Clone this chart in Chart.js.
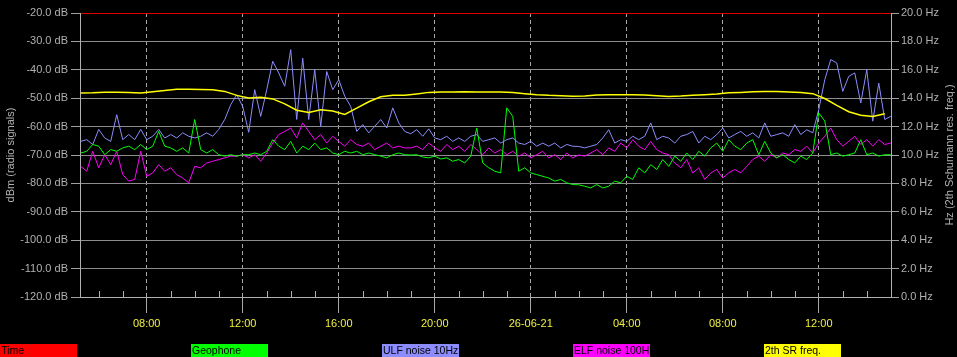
<!DOCTYPE html>
<html lang="en">
<head>
  <meta charset="UTF-8" />
  <title>Radio signals and 2nd Schumann resonance</title>
  <style>
    body { margin: 0; background: #000; font-family: Arial, "Liberation Sans", sans-serif; }
    .wrap { position: relative; width: 957px; height: 357px; overflow: hidden; }
    .legend span {
      position: absolute; top: 344px; width: 76px; height: 13px; padding-left: 1px;
      font-size: 10.5px; line-height: 13px; color: #000; white-space: nowrap; overflow: hidden;
    }
  </style>
</head>
<body>
  <div class="wrap">
    <canvas id="chart" width="957" height="357"></canvas>
    <div class="legend" id="legend"></div>
  </div>

  <script src="https://cdn.jsdelivr.net/npm/chart.js"></script>
  <script>
    // time in hours from 25-06-21 00:00, one value every 15 min
    const startHour = 5.25;
    const stepHour = 0.25;
    // SR frequency read every 30 min
    const srStartHour = 5.25;
    const srStepHour = 0.5;

    const majorHours = [8, 12, 16, 20, 24, 28, 32, 36];
    const majorLabels = ['08:00', '12:00', '16:00', '20:00', '26-06-21', '04:00', '08:00', '12:00'];

    const legendNames = ['Time', 'Geophone', 'ULF noise 10Hz', 'ELF noise 100H', '2th SR freq.'];
    const legendColors = ['#ff0000', '#00ff00', '#8c8cff', '#ff00ff', '#ffff00'];

    // dBm
    const ulfNoise = [
      -65.2, -64.6, -66.3, -61, -64, -65.2, -55.8, -64.6, -62.8, -64.6, -61, -64.6, -63.4, -61,
      -64, -62.8, -64, -62.2, -63.4, -64, -63.4, -62.2, -63.4, -61, -57.5, -52.3, -48.8, -52.9,
      -62, -47, -56.4, -47, -37, -41.1, -45.8, -32.9, -57.5, -35.9, -57.5, -40, -59.9, -40.6,
      -47, -43.5, -49.3, -52.9, -61.7, -59.3, -62.2, -59.9, -57.5, -60.5, -53.4, -58.7, -61.7,
      -62.5,
      -61.1, -63.4, -60.8, -64, -64.6, -63.4, -65.2, -64, -65.2, -63.4, -62.8, -65.2, -64.6, -64,
      -65.8, -64.6, -64, -65.8, -66.3, -65.2, -66.9, -65.8, -66.9, -65.8, -67.5, -66.3, -66.9,
      -67,
      -67.5, -66.9, -66.3, -64, -61.1, -65.8, -64.6, -65.2, -63.4, -64.6, -63.4, -58.7, -64.6,
      -63.4, -64, -65.8, -63.4, -62.8, -61.7, -65.8, -63.4, -64.6, -62.8, -60.5, -64, -62.8,
      -61.7, -63.4, -62.2, -64, -58.7, -63.4, -62.8, -62.2, -63.4, -59.3, -62.8, -61.1, -62.2,
      -54, -43.5, -36.4, -37.6, -47.6, -42.3, -41.1, -51.7, -40, -58.1, -44.7, -57.5, -56.4
    ];
    const geophone = [
      -69.3, -68.7, -66.3, -66.9, -69.9, -68.1, -68.7, -67.5, -66.9, -68.1, -66.3, -68.1, -66.9, -61.7,
      -66.9, -67.5, -68.7, -67.5, -69.3, -57.5, -68.1, -69.3, -68.1, -69.9, -70.4, -69.9, -70.4, -69.9,
      -69.9, -69.3, -69.9, -68.7, -64.6, -66.9, -68.1, -65.2, -69.3, -66.9, -68.1, -65.8, -68.1, -67.5,
      -69.3, -69.9, -68.7, -69.3, -68.7, -69.9, -69.3, -69.9, -70.4, -71, -69.9, -69.3, -69.9,
      -70,
      -69.9, -70.7, -71, -70.4, -71.4, -71, -72.2, -71.6, -72.8, -70.4, -60.5, -72.8, -74.5, -75.7,
      -76.3, -53.4, -56.4, -75.7, -74.5, -76.3, -76.9, -77.5, -78.1, -79.2, -78.6, -79.8, -80.4,
      -80.5,
      -81, -81.6, -80.4, -81.6, -81, -79.2, -79.8, -77.5, -78.6, -74.5, -76.3, -73.4, -75.1,
      -71.6, -74, -70.4, -72.2, -69.3, -71.6, -68.7, -70.4, -67.5, -65.8, -68.7, -64.6, -66.9,
      -68.1, -65.8, -64.6, -69.9, -65.2, -69.3, -71, -69.9, -71.6, -72.8, -70.4, -71.6, -69.3,
      -55.2, -58, -69.9, -69.3, -70.4, -69.9, -69.3, -64.6, -69.9, -69.3, -70.4, -69.9, -69.9
    ];
    const elfNoise = [
      -74, -75.7, -68.7, -74.5, -69.9, -73.4, -68.7, -76.9, -79.2, -78.6, -68.7, -77.5, -76.3, -73.4,
      -75.7, -74.5, -76.9, -78.1, -79.8, -74, -74.5, -72.8, -72.2, -71.6, -71, -70.4, -70.4, -69.9,
      -71, -69.9, -72.2, -69.3, -65.8, -62.8, -61.7, -60.5, -64, -58.7, -61.7, -64.6, -62.8, -65.8,
      -63.4, -65.2, -66.9, -64.6, -66.3, -66.9, -65.8, -68.1, -66.9, -65.8, -67.5, -66.9, -67.5,
      -67.5,
      -66.9, -68.1, -65.8, -67.5, -68.7, -66.3, -68.1, -66.9, -68.7, -66.3, -68.1, -69.9, -67.5, -69.3,
      -68.1, -69.9, -68.7, -70.4, -69.3, -71, -69.9, -68.7, -71, -69.9, -71.6, -69.3, -71,
      -70,
      -70.4, -69.3, -68.1, -69.9, -67.5, -68.7, -65.8, -67.5, -64.6, -66.9, -68.1, -65.2, -68.1,
      -69.3, -69.9, -72.8, -74.5, -71.6, -76.3, -74.5, -78.6, -76.3, -75.1, -78.1, -76.3, -75.1,
      -76.3, -74, -71.6, -70.4, -72.2, -69.9, -71, -69.3, -69.9, -68.1, -68.7, -66.9, -69.3,
      -65.8, -63.4, -60.5, -64.6, -66.9, -65.2, -63.4, -66.3, -64.6, -66.9, -64.6, -66.3, -65.8
    ];
    // Hz
    const srFreq = [
      14.37, 14.38, 14.42, 14.42, 14.40, 14.36, 14.46, 14.55, 14.63, 14.63, 14.62, 14.60, 14.48, 14.2,
      14.02, 14.06, 13.95, 13.6, 13.15, 13.0, 13.18, 13.1, 12.85, 13.3, 13.75, 14.1, 14.2, 14.2,
      14.3, 14.41, 14.44, 14.44, 14.45, 14.44, 14.44, 14.43, 14.4, 14.32, 14.25, 14.2, 14.18, 14.13,
      14.15, 14.22, 14.25, 14.25, 14.24, 14.22, 14.18, 14.12, 14.15, 14.2, 14.25, 14.3, 14.38,
      14.41, 14.45, 14.47, 14.48, 14.44, 14.4, 14.32, 13.98, 13.5, 13.05, 12.8, 12.72, 12.9
    ];

    const toPoints = (vals, start, step) => vals.map((v, i) => ({ x: start + i * step, y: v }));

    const axisGray = '#b0b0b0';
    Chart.defaults.font.family = 'Arial, "Liberation Sans", sans-serif';
    Chart.defaults.font.size = 11;

    // small hour ticks on the time axis + right axis title (reads bottom to top)
    const extras = {
      id: 'extras',
      afterDraw(chart) {
        const { ctx, chartArea } = chart;
        const xs = chart.scales.x;
        ctx.save();
        ctx.strokeStyle = axisGray;
        ctx.lineWidth = 1;
        ctx.beginPath();
        for (let h = Math.ceil(xs.min); h <= xs.max; h++) {
          if (majorHours.includes(h)) continue;
          const px = Math.round(xs.getPixelForValue(h)) + 0.5;
          ctx.moveTo(px, chartArea.bottom - 6);
          ctx.lineTo(px, chartArea.bottom);
        }
        ctx.stroke();

        const y2 = chart.scales.y2;
        ctx.translate(y2.right - 7, (chartArea.top + chartArea.bottom) / 2);
        ctx.rotate(-Math.PI / 2);
        ctx.fillStyle = axisGray;
        ctx.font = '11px Arial, "Liberation Sans", sans-serif';
        ctx.textAlign = 'center';
        ctx.textBaseline = 'middle';
        ctx.fillText('Hz (2th Schumann res. freq.)', 0, 0);
        ctx.restore();
      }
    };

    new Chart(document.getElementById('chart').getContext('2d'), {
      type: 'line',
      data: {
        datasets: [
          { label: 'ULF noise 10Hz', data: toPoints(ulfNoise, startHour, stepHour), borderColor: legendColors[2], yAxisID: 'y', order: 4 },
          { label: 'ELF noise 100H', data: toPoints(elfNoise, startHour, stepHour), borderColor: legendColors[3], yAxisID: 'y', order: 3 },
          { label: 'Geophone', data: toPoints(geophone, startHour, stepHour), borderColor: legendColors[1], yAxisID: 'y', order: 2 },
          { label: '2th SR freq.', data: toPoints(srFreq, srStartHour, srStepHour), borderColor: legendColors[4], borderWidth: 1.5, yAxisID: 'y2', order: 1 }
        ]
      },
      options: {
        responsive: false,
        animation: false,
        layout: { padding: { top: 13, left: 0, right: 0, bottom: 0 } },
        elements: { point: { radius: 0 }, line: { borderWidth: 1, tension: 0 } },
        plugins: { legend: { display: false }, tooltip: { enabled: false } },
        scales: {
          x: {
            type: 'linear', min: 5.22, max: 39.01,
            afterBuildTicks: s => { s.ticks = majorHours.map(v => ({ value: v })); },
            afterFit: s => { s.height = 60; },
            grid: { color: '#a8a8a8', tickColor: '#a8a8a8', tickLength: 16 },
            border: { color: axisGray, dash: [4, 3] },
            ticks: {
              color: '#f0f040', padding: 4, maxRotation: 0, autoSkip: false,
              callback: v => majorLabels[majorHours.indexOf(v)]
            }
          },
          y: {
            position: 'left', min: -120, max: -20,
            afterFit: s => { s.width = 80; },
            ticks: { stepSize: 10, color: axisGray, padding: 3, callback: v => v.toFixed(1) + ' dB' },
            grid: {
              color: c => (c.tick && c.tick.value === -20 ? '#e00000' : '#8c8c8c'),
              tickColor: '#a0a0a0', tickLength: 9
            },
            border: { color: axisGray },
            title: { display: true, text: 'dBm (radio signals)', color: axisGray, padding: { top: 4, bottom: 0 } }
          },
          y2: {
            position: 'right', min: 0, max: 20,
            afterFit: s => { s.width = 66; },
            ticks: { stepSize: 2, color: axisGray, padding: 2, callback: v => v.toFixed(1) + ' Hz' },
            grid: { drawOnChartArea: false, color: '#a0a0a0', tickLength: 8 },
            border: { color: axisGray }
          }
        }
      },
      plugins: [extras]
    });

    const legend = document.getElementById('legend');
    legendNames.forEach((name, i) => {
      const el = document.createElement('span');
      el.textContent = name;
      el.style.left = (i * 191) + 'px';
      el.style.background = legendColors[i];
      legend.appendChild(el);
    });
  </script>
</body>
</html>
